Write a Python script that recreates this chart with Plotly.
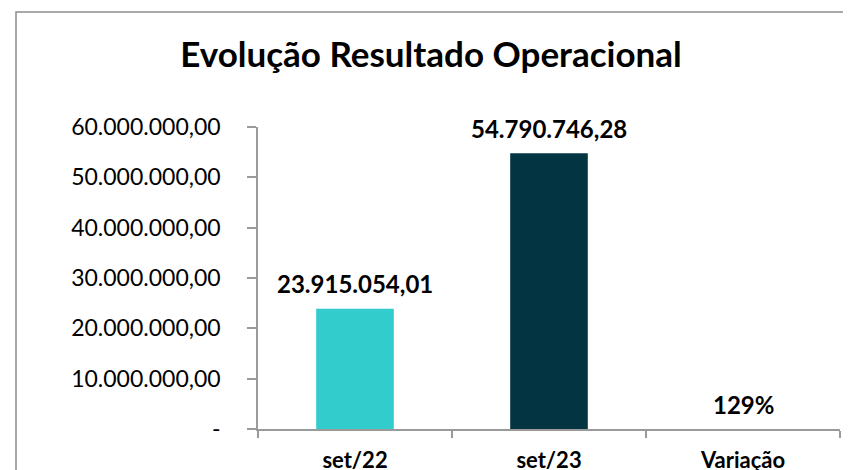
import plotly.graph_objects as go

categories = ["set/22", "set/23", "Variação"]
values = [23915054.01, 54790746.28, 1.29]
labels = ["23.915.054,01", "54.790.746,28", "129%"]
colors = ["#33CCCC", "#023541", "rgba(0,0,0,0)"]
y_tickvals = [0, 10e6, 20e6, 30e6, 40e6, 50e6, 60e6]
y_ticktext = ["-", "10.000.000,00", "20.000.000,00", "30.000.000,00",
              "40.000.000,00", "50.000.000,00", "60.000.000,00"]

FONT = "Lato"
W, H = 843, 462

fig = go.Figure()
fig.add_trace(go.Bar(x=categories, y=values, marker=dict(color=colors, line=dict(width=0)),
                     width=0.4, hoverinfo="skip"))

annotations = []
for c, v, t in zip(categories, values, labels):
    annotations.append(dict(x=c, y=v, xref="x", yref="y", text=t, showarrow=False,
                            yshift=25, yanchor="middle", xanchor="center",
                            font=dict(family=FONT, size=24, color="#000000", weight="bold")))

fig.update_layout(
    width=W, height=H,
    margin=dict(l=250, r=11, t=119, b=41, autoexpand=False),
    paper_bgcolor="white", plot_bgcolor="white",
    showlegend=False,
    title=dict(text="<b>Evolução Resultado Operacional</b>", x=423 / W, xanchor="center",
               y=1 - 47 / H, yanchor="middle", automargin=False,
               font=dict(family=FONT, size=35, color="#000000")),
    annotations=annotations,
    xaxis=dict(range=[-0.5, 2.5], showline=True, linecolor="#9a9a9a", linewidth=1.5,
               ticks="outside", tickson="boundaries", ticklen=7, tickcolor="#9a9a9a",
               tickwidth=1.5, showgrid=False, zeroline=False, ticklabelstandoff=11,
               automargin=False,
               tickfont=dict(family=FONT, size=22, color="#000000", weight="bold")),
    yaxis=dict(range=[0, 60e6], tickvals=y_tickvals, ticktext=y_ticktext,
               showline=True, linecolor="#9a9a9a", linewidth=1.5, ticks="outside",
               ticklen=9, tickcolor="#9a9a9a", tickwidth=1.5, showgrid=False,
               zeroline=False, ticklabelstandoff=22, automargin=False,
               tickfont=dict(family=FONT, size=23, color="#000000")),
    shapes=[dict(type="rect", xref="paper", yref="paper",
                 x0=(8 - 250) / 582, x1=1.2, y0=-0.5, y1=1 + (119 - 4) / 302,
                 line=dict(color="#8c8c8c", width=1.5), fillcolor="rgba(0,0,0,0)")],
)

fig.write_html("out.html")
